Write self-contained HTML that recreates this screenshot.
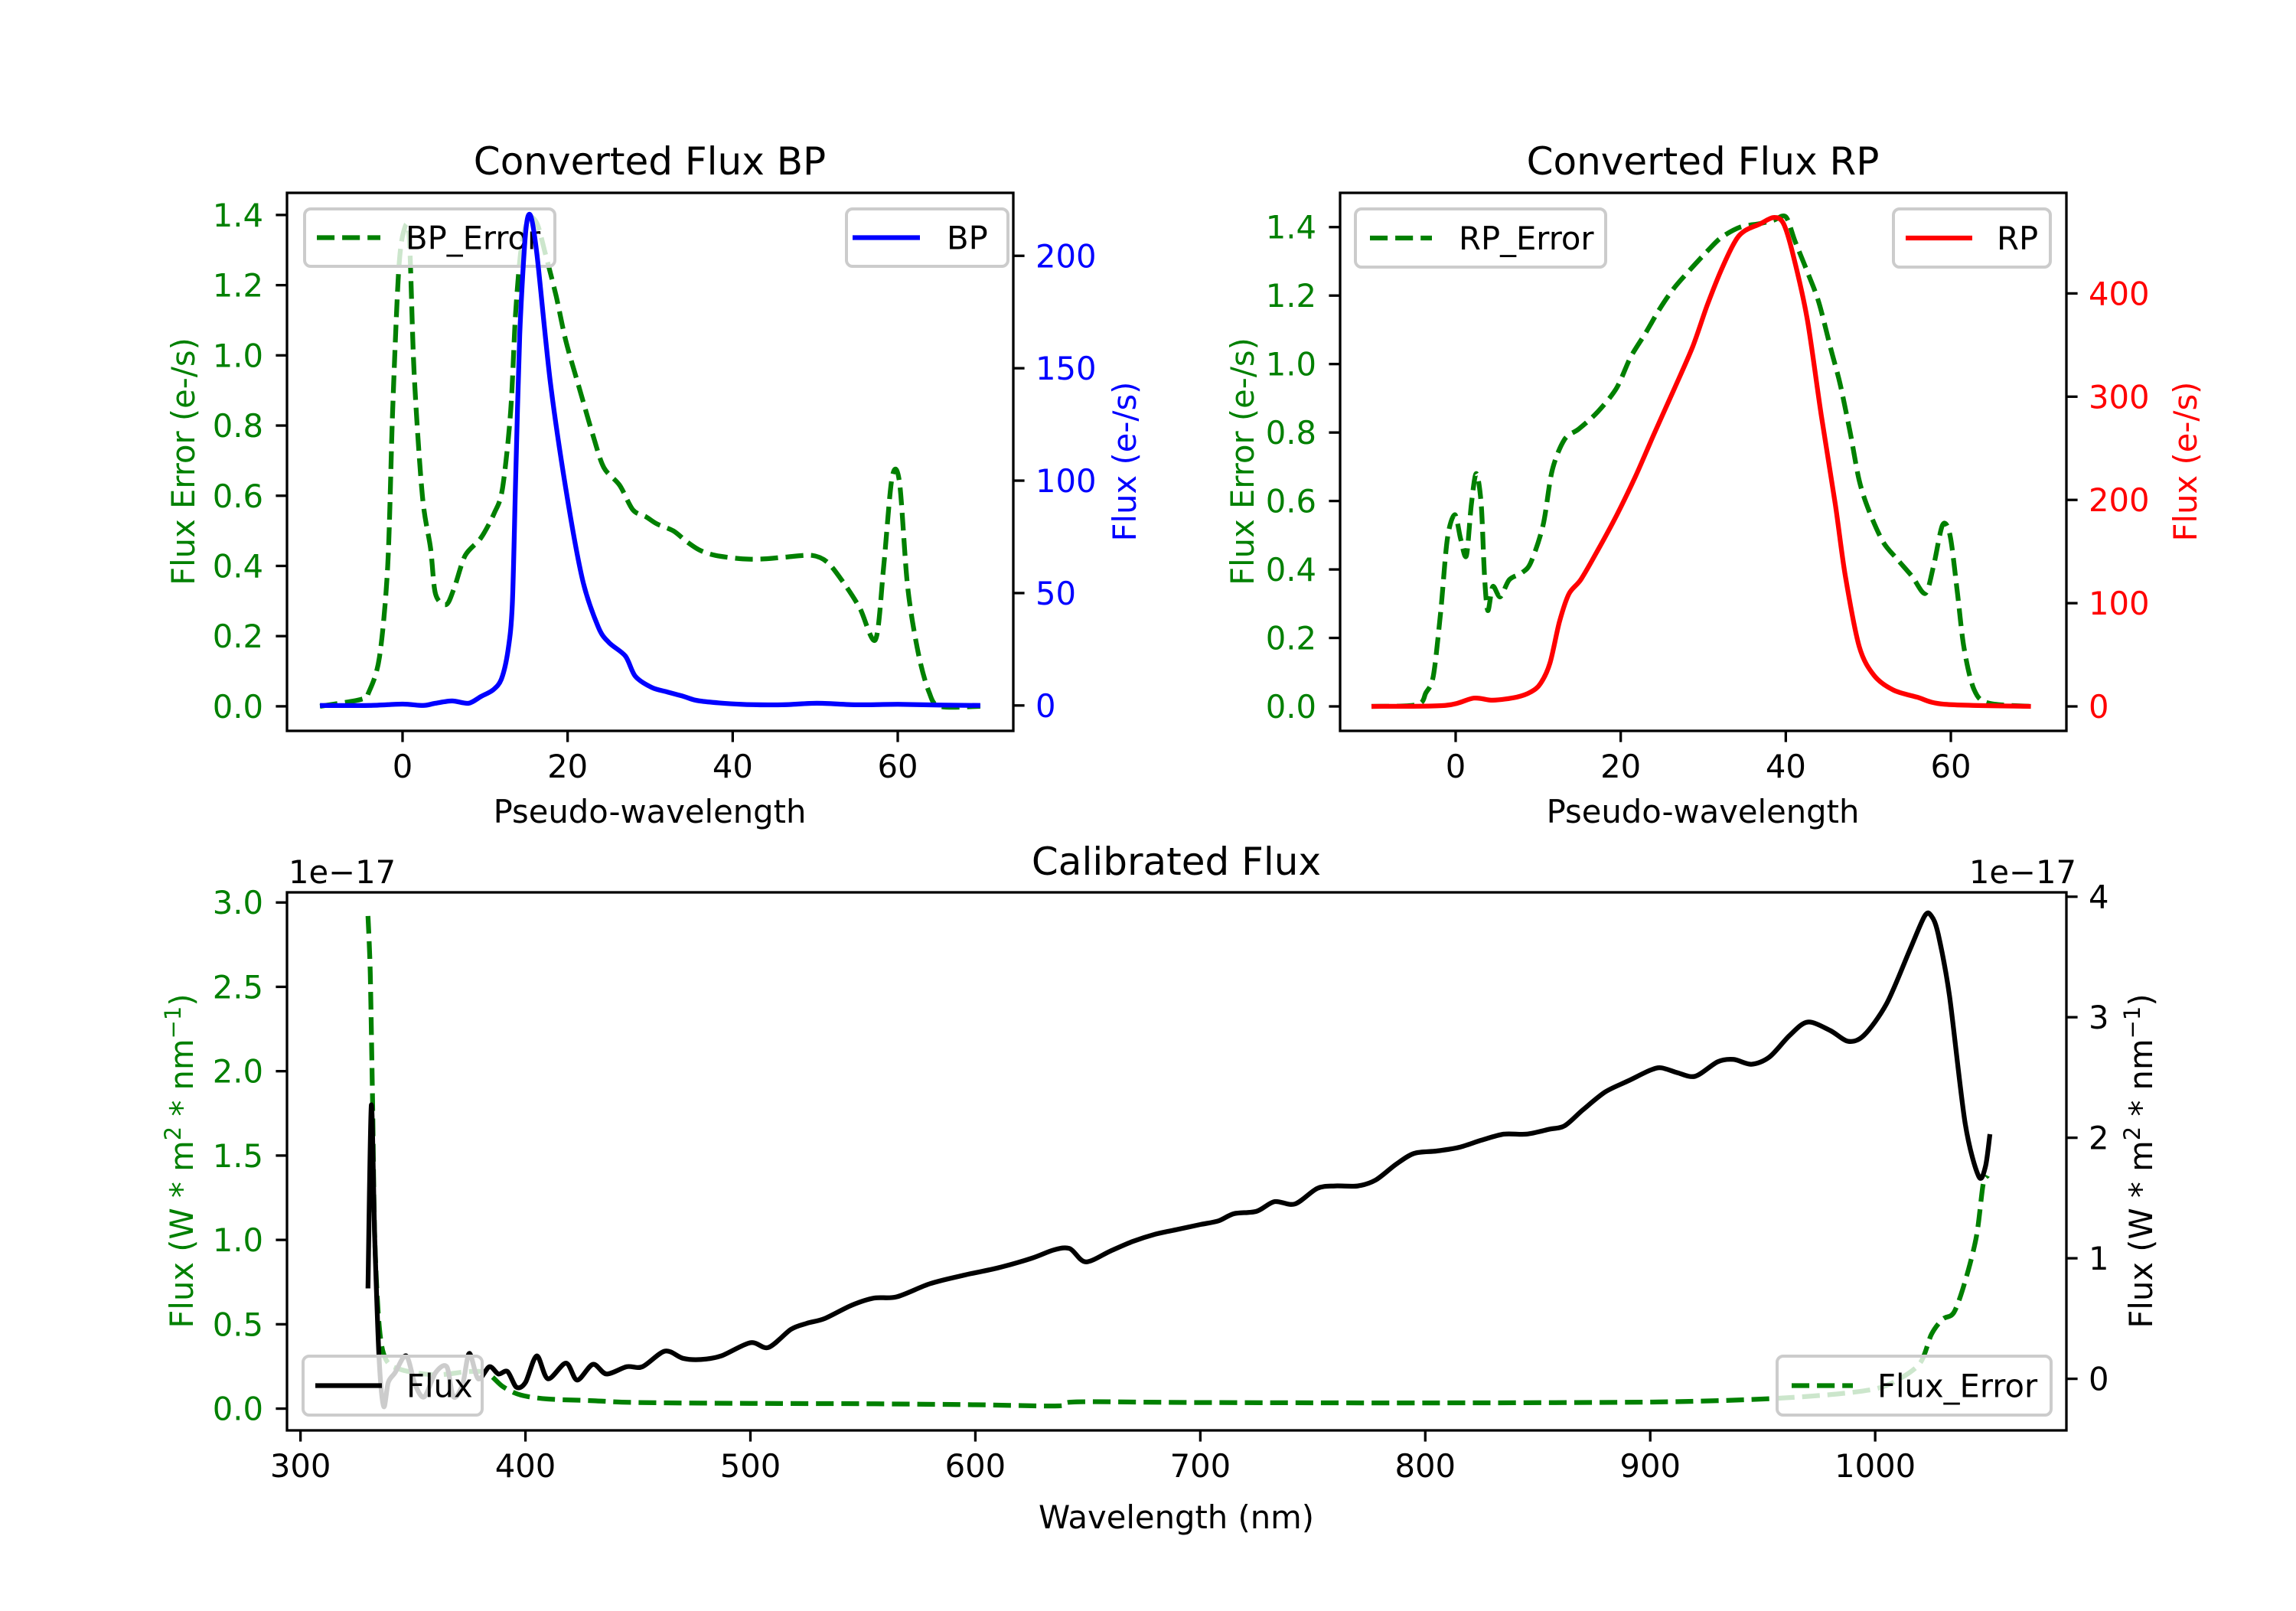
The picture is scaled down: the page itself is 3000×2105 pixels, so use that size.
<!DOCTYPE html>
<html><head><meta charset="utf-8">
<style>
html,body{margin:0;padding:0;background:#fff;}
svg text{font-family:"DejaVu Sans","Liberation Sans",sans-serif;}
</style></head>
<body>
<svg id="fig" xmlns="http://www.w3.org/2000/svg" width="3000" height="2100" viewBox="0 0 3000 2100">
<rect width="3000" height="2100" fill="#fff"/>
</svg>
<script>
// ---- BP panel data ----
const bpX = [-10,-4,0,2.5,4,6,8,9.5,11,12,12.8,13.3,13.7,14.2,14.9,15.5,16.3,17.9,19.8,21.8,23.7,25,27,28.2,30.2,32.1,34.1,36,41,46,50.2,55,60,65,70];
const bpY = [0,0,0.6,0,1,2,1,4,7,12,25,45,100,165,210,218,200,144,96,56,35,28,22,13,8,6,4,2,0.5,0.3,1,0.3,0.5,0.2,0];
const bpErrX = [-10,-5,-4.1,-2.8,-1.8,-1.2,-0.5,0.1,0.8,1.4,2.4,3.4,4,5.3,6.3,7.6,9.5,11.1,12.1,13.1,13.7,14.4,15.3,16.3,17.3,18.6,19.8,21.5,23.1,24.4,26.3,27.9,29.5,30.8,32.8,34.4,36,37.9,41.2,43.8,46.3,49.6,51.5,53.5,55.4,57.3,58.3,59.3,60.2,61.2,62.5,63.8,65.1,70];
const bpErrY = [0,0.02,0.04,0.14,0.40,0.84,1.23,1.35,1.34,0.95,0.6,0.45,0.32,0.29,0.34,0.43,0.48,0.55,0.62,0.84,1.12,1.31,1.39,1.375,1.29,1.17,1.04,0.9,0.77,0.68,0.63,0.56,0.54,0.52,0.5,0.47,0.445,0.43,0.42,0.42,0.425,0.43,0.41,0.35,0.28,0.19,0.4,0.65,0.64,0.34,0.15,0.04,0,0];
// ---- RP panel data ----
const rpX = [-10.2,-1.27,2.19,4.5,7.39,9.12,10.27,11.43,12.58,13.73,15.18,17.2,19.5,21.8,24.1,26.4,28.7,30.5,32.2,33.9,35.1,36.8,38.5,39.7,40.9,42.6,44.3,46.0,47.2,48.9,50.7,53.0,55.9,59.3,69.7];
const rpY = [0,1,8,6,9,14,22,42,82,109,123,151,185,223,265,306,348,389,423,451,461,467,473.5,468,437,375,282,196,127,58,30,16,9,2,0];
const rpErrX = [-10.2,-4.7,-3.6,-2.7,-1.8,-1,-0.1,0.6,1.3,1.9,2.5,3.1,3.5,3.9,4.5,5.4,6.5,8,9.1,10.6,11.7,13.2,14.9,17.2,19.5,21.2,23,24.7,26.4,28.2,30.5,32.2,34.5,36.8,38.5,40,41.1,42.6,44,45.5,46.6,47.8,48.9,50.1,51.8,53.5,55.3,56.9,57.9,59,59.9,60.8,61.6,62.8,64.5,69.7];
const rpErrY = [0,0.005,0.04,0.09,0.28,0.49,0.56,0.49,0.44,0.59,0.68,0.59,0.38,0.28,0.35,0.32,0.37,0.39,0.42,0.53,0.69,0.78,0.81,0.86,0.93,1.02,1.09,1.16,1.22,1.27,1.33,1.37,1.40,1.41,1.42,1.43,1.36,1.27,1.18,1.04,0.94,0.80,0.66,0.57,0.48,0.43,0.38,0.33,0.41,0.53,0.50,0.33,0.17,0.05,0.01,0];
// ---- Calibrated flux data (units of 1e-17) ----
const wlFlux = [330,331.5,333,335,337,339,342,347,351,355,360,365,368,372,375,379,384,388,392,396,400,405,410,418,423,430,436,445,452,462,470,478,487,500,508,518,525,533,545,555,565,580,595,610,625,635,642,649,660,670,680,690,700,708,715,725,733,742,752,760,770,778,787,795,805,815,825,835,845,855,862,870,880,890,900,905,912,920,930,937,945,953,962,970,980,988,995,1005,1015,1022,1025,1028,1033,1040,1046,1049,1051];
const fluxVals = [0.75,2.27,1.17,0.15,-0.23,-0.03,0.05,0.19,-0.05,-0.15,0.05,0.1,-0.15,-0.05,0.21,0.0,0.1,0.04,0.06,-0.07,-0.03,0.19,0.0,0.13,-0.01,0.12,0.04,0.1,0.1,0.23,0.17,0.16,0.19,0.30,0.26,0.41,0.46,0.50,0.61,0.67,0.68,0.79,0.86,0.92,1.0,1.07,1.08,0.97,1.06,1.14,1.2,1.24,1.28,1.31,1.37,1.39,1.47,1.45,1.58,1.60,1.60,1.65,1.78,1.87,1.89,1.92,1.98,2.03,2.03,2.07,2.10,2.23,2.38,2.47,2.56,2.58,2.54,2.51,2.63,2.65,2.61,2.67,2.85,2.96,2.89,2.80,2.85,3.11,3.54,3.84,3.84,3.69,3.18,2.12,1.68,1.76,2.03];
const wlErr = [330,331,332,333,335,338,345,360,375,383,390,398,410,430,450,500,550,600,637,645,700,800,900,950,980,1000,1010,1020,1025,1030,1035,1040,1045,1048,1050];
const fluxErrVals = [2.92,2.58,1.85,1.02,0.49,0.29,0.23,0.2,0.22,0.21,0.13,0.08,0.057,0.047,0.036,0.031,0.029,0.023,0.016,0.04,0.036,0.034,0.039,0.057,0.083,0.117,0.17,0.27,0.44,0.53,0.57,0.755,1.02,1.33,1.38];
// ---- tick labels ----
const pwTicks = [0,20,40,60];
const errTicks = [0,0.2,0.4,0.6,0.8,1.0,1.2,1.4];
const bpTicks = [0,50,100,150,200];
const rpTicks = [0,100,200,300,400];
const wlTicks = [300,400,500,600,700,800,900,1000];
const calLeftTicks = [0,0.5,1.0,1.5,2.0,2.5,3.0];
const calRightTicks = [0,1,2,3,4];

const NS = "http://www.w3.org/2000/svg";
const svg = document.getElementById('fig');
const LW = 6.25, TL = 14.6, FS = 41.7;
function el(tag, attrs, parent) {
  const e = document.createElementNS(NS, tag);
  for (const k in attrs) e.setAttribute(k, attrs[k]);
  (parent || svg).appendChild(e);
  return e;
}
function lin(d0, d1, p0, p1) { return v => p0 + (v - d0) * (p1 - p0) / (d1 - d0); }
function text(str, x, y, opts, parent) {
  const t = el('text', {x: x, y: y, 'font-size': opts.size || FS, fill: opts.fill || '#000', 'text-anchor': opts.anchor || 'middle'}, parent);
  if (opts.rot) t.setAttribute('transform', 'rotate(' + opts.rot + ' ' + x + ' ' + y + ')');
  t.textContent = str;
  return t;
}
function linePath(xs, ys, sx, sy) {
  const p = xs.map((v, i) => [sx(v), sy(ys[i])]);
  let d = 'M' + p[0][0].toFixed(1) + ' ' + p[0][1].toFixed(1);
  const k = 0.15;
  for (let i = 0; i < p.length - 1; i++) {
    const p0 = p[i - 1] || p[i], p1 = p[i], p2 = p[i + 1], p3 = p[i + 2] || p2;
    const c1 = [p1[0] + (p2[0] - p0[0]) * k, p1[1] + (p2[1] - p0[1]) * k];
    const c2 = [p2[0] - (p3[0] - p1[0]) * k, p2[1] - (p3[1] - p1[1]) * k];
    d += ' C' + c1[0].toFixed(1) + ' ' + c1[1].toFixed(1) + ' ' + c2[0].toFixed(1) + ' ' + c2[1].toFixed(1) + ' ' + p2[0].toFixed(1) + ' ' + p2[1].toFixed(1);
  }
  return d;
}
function fmt1(v) { return v.toFixed(1); }

function panel(name, box) {
  const g = el('g', {});
  
  
  const cid = 'clip-' + name;
  const cp = el('clipPath', {id: cid}, g);
  el('rect', {x: box.x0, y: box.y0, width: box.x1 - box.x0, height: box.y1 - box.y0}, cp);
  return {g: g, clip: cid};
}
function xAxis(g, ticks, sx, box, labelFmt) {
  const ax = el('g', {}, g);
  
  
  ticks.forEach(v => {
    const x = sx(v);
    el('line', {x1: x, x2: x, y1: box.y1, y2: box.y1 + TL, stroke: '#000', 'stroke-width': 3.3}, ax);
    const t = text(labelFmt(v), x, box.y1 + 61, {}, ax);
    
    
  });
}
function yAxis(g, ticks, sy, box, side, color, labelFmt) {
  const ax = el('g', {}, g);
  
  
  ticks.forEach(v => {
    const y = sy(v);
    if (side === 'left') {
      el('line', {x1: box.x0 - TL, x2: box.x0, y1: y, y2: y, stroke: '#000', 'stroke-width': 3.3}, ax);
      const t = text(labelFmt(v), box.x0 - 31, y + 15, {anchor: 'end', fill: color}, ax);
      
      
    } else {
      el('line', {x1: box.x1, x2: box.x1 + TL, y1: y, y2: y, stroke: '#000', 'stroke-width': 3.3}, ax);
      const t = text(labelFmt(v), box.x1 + 29, y + 15, {anchor: 'start', fill: color}, ax);
      
      
    }
  });
}
function frame(g, box) {
  const r = el('rect', {x: box.x0, y: box.y0, width: box.x1 - box.x0, height: box.y1 - box.y0, fill: 'none', stroke: '#000', 'stroke-width': 3.3}, g);
  
  
}
function legend(g, x0, x1, y0, y1, color, dashed, label, hx0, hx1, tx) {
  const lg = el('g', {}, g);
  
  
  el('rect', {x: x0, y: y0, width: x1 - x0, height: y1 - y0, rx: 8, fill: '#fff', 'fill-opacity': 0.8, stroke: '#ccc', 'stroke-width': 4}, lg);
  const ym = (y0 + y1) / 2;
  const l = el('line', {x1: hx0, x2: hx1, y1: ym, y2: ym, stroke: color, 'stroke-width': LW}, lg);
  if (dashed) l.setAttribute('stroke-dasharray', '23.1 10');
  text(label, tx, ym + 15, {anchor: 'start'}, lg);
}
function series(g, clip, xs, ys, sx, sy, color, dashed, name) {
  const p = el('path', {d: linePath(xs, ys, sx, sy), fill: 'none', stroke: color, 'stroke-width': LW, 'stroke-linejoin': 'round', 'clip-path': 'url(#' + clip + ')'}, g);
  if (dashed) p.setAttribute('stroke-dasharray', '23.1 10');
  
  
}

// ===== BP panel =====
(function () {
  const box = {x0: 375, x1: 1324, y0: 252, y1: 955};
  const P = panel('bp-panel', box);
  const sx = lin(-14, 74, box.x0, box.x1);
  const sy = lin(-0.07, 1.463, box.y1, box.y0);
  const sy2 = lin(-11.3, 228, box.y1, box.y0);
  series(P.g, P.clip, bpErrX, bpErrY, sx, sy, '#008000', true, 'bp-error-line');
  legend(P.g, 398, 725, 273, 348, '#008000', true, 'BP_Error', 414, 497, 530);
  series(P.g, P.clip, bpX, bpY, sx, sy2, '#0000ff', false, 'bp-line');
  legend(P.g, 1106, 1317, 273, 348, '#0000ff', false, 'BP', 1114, 1202, 1237);
  frame(P.g, box);
  xAxis(P.g, pwTicks, sx, box, v => String(v));
  yAxis(P.g, errTicks, sy, box, 'left', '#008000', fmt1);
  yAxis(P.g, bpTicks, sy2, box, 'right', '#0000ff', v => String(v));
  text('Converted Flux BP', 849, 228, {size: 50}, P.g);
  text('Pseudo-wavelength', 849, 1075, {}, P.g);
  text('Flux Error (e-/s)', 254, 603, {fill: '#008000', rot: -90}, P.g);
  text('Flux (e-/s)', 1484, 603, {fill: '#0000ff', rot: -90}, P.g);
})();

// ===== RP panel =====
(function () {
  const box = {x0: 1751, x1: 2700, y0: 252, y1: 955};
  const P = panel('rp-panel', box);
  const sx = lin(-14, 74, box.x0, box.x1);
  const sy = lin(-0.0715, 1.5, box.y1, box.y0);
  const sy2 = lin(-23.7, 497.4, box.y1, box.y0);
  series(P.g, P.clip, rpErrX, rpErrY, sx, sy, '#008000', true, 'rp-error-line');
  legend(P.g, 1771, 2098, 273, 349, '#008000', true, 'RP_Error', 1790, 1871, 1906);
  series(P.g, P.clip, rpX, rpY, sx, sy2, '#ff0000', false, 'rp-line');
  legend(P.g, 2474, 2679, 273, 349, '#ff0000', false, 'RP', 2490, 2577, 2609);
  frame(P.g, box);
  xAxis(P.g, pwTicks, sx, box, v => String(v));
  yAxis(P.g, errTicks, sy, box, 'left', '#008000', fmt1);
  yAxis(P.g, rpTicks, sy2, box, 'right', '#ff0000', v => String(v));
  text('Converted Flux RP', 2225, 228, {size: 50}, P.g);
  text('Pseudo-wavelength', 2225, 1075, {}, P.g);
  text('Flux Error (e-/s)', 1638, 603, {fill: '#008000', rot: -90}, P.g);
  text('Flux (e-/s)', 2870, 603, {fill: '#ff0000', rot: -90}, P.g);
})();

// ===== Calibrated flux panel =====
(function () {
  const box = {x0: 375, x1: 2700, y0: 1166, y1: 1869};
  const P = panel('calibrated-panel', box);
  const sx = lin(294, 1085, box.x0, box.x1);
  const sy = lin(-0.129, 3.06, box.y1, box.y0);
  const sy2 = lin(-0.428, 4.036, box.y1, box.y0);
  series(P.g, P.clip, wlErr, fluxErrVals, sx, sy, '#008000', true, 'flux-error-line');
  series(P.g, P.clip, wlFlux, fluxVals, sx, sy2, '#000000', false, 'flux-line');
  legend(P.g, 396, 630, 1772, 1849, '#000', false, 'Flux', 412, 499, 531);
  legend(P.g, 2322, 2680, 1772, 1849, '#008000', true, 'Flux_Error', 2341, 2421, 2453);
  frame(P.g, box);
  xAxis(P.g, wlTicks, sx, box, v => String(v));
  yAxis(P.g, calLeftTicks, sy, box, 'left', '#008000', fmt1);
  yAxis(P.g, calRightTicks, sy2, box, 'right', '#000', v => String(v));
  text('Calibrated Flux', 1537, 1143, {size: 50}, P.g);
  text('1e\u221217', 377, 1154, {anchor: 'start'}, P.g);
  text('1e\u221217', 2713, 1154, {anchor: 'end'}, P.g);
  text('Wavelength (nm)', 1537, 1997, {}, P.g);
  const lt = el('text', {x: 252, y: 1517, 'font-size': FS, fill: '#008000', 'text-anchor': 'middle', transform: 'rotate(-90 252 1517)'}, P.g);
  
  
  lt.innerHTML = 'Flux (W * m<tspan font-size="29" dy="-16">2</tspan><tspan dy="16"> * nm</tspan><tspan font-size="29" dy="-16">\u22121</tspan><tspan dy="16">)</tspan>';
  const rt = el('text', {x: 2812, y: 1517, 'font-size': FS, fill: '#000', 'text-anchor': 'middle', transform: 'rotate(-90 2812 1517)'}, P.g);
  
  
  rt.innerHTML = 'Flux (W * m<tspan font-size="29" dy="-16">2</tspan><tspan dy="16"> * nm</tspan><tspan font-size="29" dy="-16">\u22121</tspan><tspan dy="16">)</tspan>';
})();
</script>
</body></html>
